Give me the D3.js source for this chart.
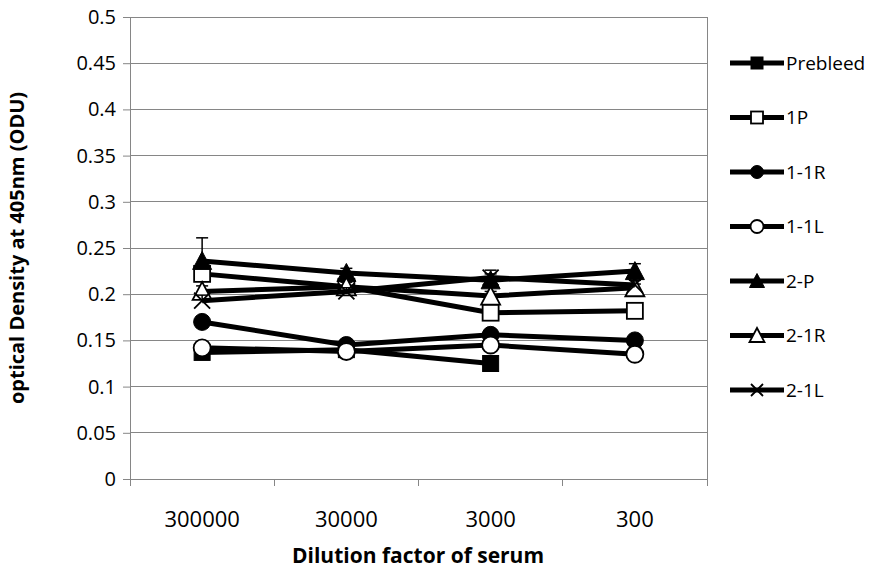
<!DOCTYPE html>
<html><head><meta charset="utf-8">
<script src="https://cdn.jsdelivr.net/npm/d3@7"></script>
<style>body{margin:0;background:#fff}svg{display:block}text{font-family:"Open Sans",sans-serif}</style>
</head><body>
<script>
const categories = ["300000","30000","3000","300"];
const yTicks = [0,0.05,0.1,0.15,0.2,0.25,0.3,0.35,0.4,0.45,0.5];
const seriesNames = ["Prebleed","1P","1-1R","1-1L","2-P","2-1R","2-1L"];
const markers = ["squareFill","squareOpen","circleFill","circleOpen","triFill","triOpen","cross"];
const prebleed = [0.137,0.140,0.125,null];
const p1 = [0.222,0.208,0.180,0.182];
const r11 = [0.170,0.145,0.156,0.150];
const l11 = [0.142,0.138,0.145,0.135];
const p2 = [0.236,0.223,0.215,0.225];
const r21 = [0.203,0.208,0.198,0.207];
const l21 = [0.193,0.203,0.218,0.210];
const errPrebleed = [0.008,0.005,0.004,0];
const err1P = [0.006,0.006,0.005,0.004];
const err11R = [0.004,0.006,0.004,0.004];
const err11L = [0.004,0.004,0.004,0.003];
const err2P = [0.025,0.005,0.007,0.008];
const err21R = [0.006,0.005,0.005,0.004];
const err21L = [0.006,0.004,0.008,0.005];
const values = [prebleed,p1,r11,l11,p2,r21,l21];
const errs = [errPrebleed,err1P,err11R,err11L,err2P,err21R,err21L];

const W=877,H=585;
const svg=d3.select("body").append("svg").attr("width",W).attr("height",H);
const x=d3.scaleBand().domain(categories).range([130,707]);
const y=d3.scaleLinear().domain([0,0.5]).range([479,17]);

// gridlines
svg.append("g").selectAll("line").data(yTicks.slice(1)).join("line")
  .attr("x1",130).attr("x2",707).attr("y1",d=>y(d)).attr("y2",d=>y(d))
  .attr("stroke","#868686").attr("stroke-width",1).attr("shape-rendering","crispEdges");
svg.append("line").attr("x1",707).attr("x2",707).attr("y1",y(0.5)).attr("y2",y(0))
  .attr("stroke","#868686").attr("shape-rendering","crispEdges");

// y axis
const ya=svg.append("g").attr("transform","translate(130,0)")
  .call(d3.axisLeft(y).tickValues(yTicks).tickSize(7).tickPadding(7).tickFormat(d=>String(d)));
ya.select(".domain").attr("stroke","#868686");
ya.selectAll(".tick line").attr("stroke","#868686");
ya.selectAll(".tick text").attr("font-size",20).attr("font-family","Open Sans").attr("fill","#000");

// x axis
const xa=svg.append("g").attr("transform","translate(0,479)")
  .call(d3.axisBottom(x).tickSize(0).tickPadding(32));
xa.select(".domain").attr("stroke","#868686");
xa.selectAll(".tick text").attr("font-size",22).attr("font-family","Open Sans").attr("fill","#000");
const bounds=categories.map(c=>x(c)).concat([x.range()[1]]);
svg.append("g").selectAll("line").data(bounds).join("line")
  .attr("x1",d=>d).attr("x2",d=>d).attr("y1",479).attr("y2",486)
  .attr("stroke","#868686").attr("shape-rendering","crispEdges");

// titles
svg.append("text").attr("x",418).attr("y",563).attr("text-anchor","middle")
  .attr("font-size",21).attr("font-weight","bold").text("Dilution factor of serum");
svg.append("text").attr("transform","translate(24,248) rotate(-90)").attr("text-anchor","middle")
  .attr("font-size",20).attr("font-weight","bold").text("optical Density at 405nm (ODU)");

const cx=c=>x(c)+x.bandwidth()/2;
function drawMarker(g,type,px,py,s){
  if(type==="squareFill"||type==="squareOpen"){
    g.append("rect").attr("x",px-s/2).attr("y",py-s/2).attr("width",s).attr("height",s)
      .attr("fill",type==="squareFill"?"#000":"#fff").attr("stroke","#000").attr("stroke-width",type==="squareFill"?1:1.8);
  } else if(type==="circleFill"||type==="circleOpen"){
    g.append("circle").attr("cx",px).attr("cy",py).attr("r",s/2+0.5)
      .attr("fill",type==="circleFill"?"#000":"#fff").attr("stroke","#000").attr("stroke-width",type==="circleFill"?1:1.8);
  } else if(type==="triFill"||type==="triOpen"){
    const h=s+1;
    g.append("path").attr("d",`M${px},${py-h/2-1}L${px+h/2+1},${py+h/2}L${px-h/2-1},${py+h/2}Z`)
      .attr("fill",type==="triFill"?"#000":"#fff").attr("stroke","#000").attr("stroke-width",type==="triFill"?1:1.8);
  } else if(type==="cross"){
    const r=s/2;
    g.append("path").attr("d",`M${px-r},${py-r}L${px+r},${py+r}M${px-r},${py+r}L${px+r},${py-r}`)
      .attr("stroke","#000").attr("stroke-width",1.8).attr("fill","none");
  }
}

const line=d3.line().defined(d=>d.v!=null).x(d=>cx(d.c)).y(d=>y(d.v));
const plot=svg.append("g");
seriesNames.forEach((name,i)=>{
  const pts=categories.map((c,j)=>({c,v:values[i][j],e:errs[i][j]}));
  const g=plot.append("g");
  g.append("path").datum(pts).attr("d",line).attr("fill","none").attr("stroke","#000").attr("stroke-width",5);
  pts.filter(p=>p.v!=null).forEach(p=>{
    if(p.e>0){
      g.append("line").attr("x1",cx(p.c)).attr("x2",cx(p.c)).attr("y1",y(p.v)).attr("y2",y(p.v+p.e)).attr("stroke","#000").attr("stroke-width",1.5);
      g.append("line").attr("x1",cx(p.c)-6).attr("x2",cx(p.c)+6).attr("y1",y(p.v+p.e)).attr("y2",y(p.v+p.e)).attr("stroke","#000").attr("stroke-width",1.5);
    }
    drawMarker(g,markers[i],cx(p.c),y(p.v),16);
  });
});

// legend
const lg=svg.append("g");
seriesNames.forEach((name,i)=>{
  const ly=63+i*54.5;
  lg.append("line").attr("x1",730).attr("x2",784).attr("y1",ly).attr("y2",ly).attr("stroke","#000").attr("stroke-width",5);
  drawMarker(lg,markers[i],757,ly,12);
  lg.append("text").attr("x",786).attr("y",ly).attr("dy","0.35em").attr("font-size",19).text(name);
});
</script>
</body></html>
